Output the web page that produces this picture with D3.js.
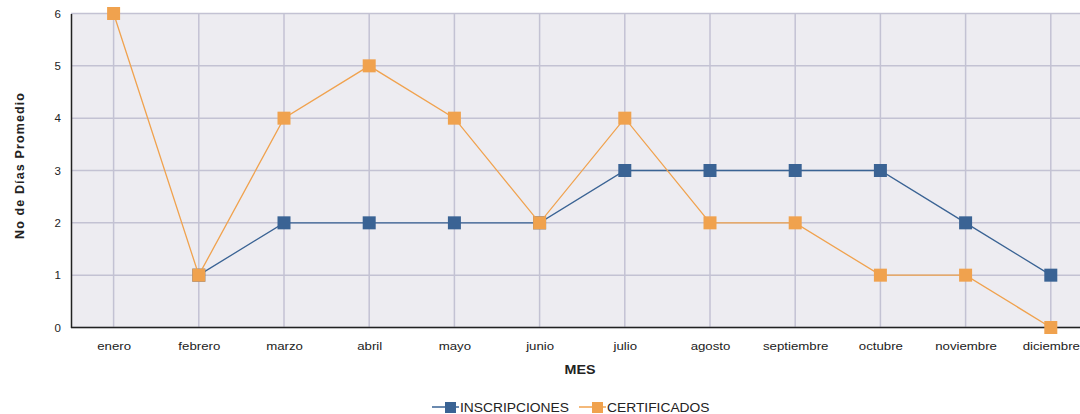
<!DOCTYPE html>
<html><head><meta charset="utf-8">
<script src="https://cdn.jsdelivr.net/npm/d3@7"></script>
<style>body{margin:0;background:#fff;}svg{display:block;font-family:"Liberation Sans",Arial,sans-serif;}</style>
</head><body>
<script>
const categories = ["enero","febrero","marzo","abril","mayo","junio","julio","agosto","septiembre","octubre","noviembre","diciembre"];
const inscripciones = [null,1,2,2,2,2,3,3,3,3,2,1];
const certificados = [6,1,4,5,4,2,4,2,2,1,1,0];
const yTicks = [0,1,2,3,4,5,6];
const seriesNames = ["INSCRIPCIONES","CERTIFICADOS"];
const colors = ["#3A6394","#F0A24E"];

(function(){
const W = 1080, H = 414;
const svg = d3.select("body").append("svg").attr("width", W).attr("height", H);
const pLeft = 71, pTop = 13.5, pBottom = 327.5;
const step = 85.2;
const x = d3.scalePoint().domain(categories).range([pLeft + step/2, pLeft + step/2 + step*11]);
const y = d3.scaleLinear().domain([0,6]).range([pBottom, pTop]);

function stretch(sel, f){
  sel.each(function(){ const w = this.getComputedTextLength(); d3.select(this).attr("textLength", w*f).attr("lengthAdjust","spacingAndGlyphs"); });
}

svg.append("rect").attr("x", pLeft).attr("y", pTop).attr("width", step*12).attr("height", pBottom-pTop).attr("fill","#EDECF1");
svg.append("g").selectAll("line").data(yTicks).join("line")
  .attr("x1", pLeft).attr("x2", pLeft + step*12).attr("y1", d=>y(d)).attr("y2", d=>y(d))
  .attr("stroke","#C3C2D3").attr("stroke-width",1.5);
svg.append("g").selectAll("line").data(categories).join("line")
  .attr("x1", d=>x(d)).attr("x2", d=>x(d)).attr("y1", pTop).attr("y2", pBottom)
  .attr("stroke","#C3C2D3").attr("stroke-width",1.5);

const yAxis = d3.axisLeft(y).tickValues(yTicks).tickSize(0).tickPadding(10).tickFormat(d3.format("d"));
const gy = svg.append("g").attr("transform",`translate(${pLeft},0)`).call(yAxis);
gy.select(".domain").attr("stroke","#222").attr("stroke-width",1.5);
gy.selectAll("text").attr("font-size",11.5).attr("fill","#222");

const xAxis = d3.axisBottom(x).tickSize(0).tickPadding(14);
const gx = svg.append("g").attr("transform",`translate(0,${pBottom})`).call(xAxis);
gx.select(".domain").attr("d", `M${pLeft},0H${pLeft+step*12}`).attr("stroke","#222").attr("stroke-width",1.5);
gx.selectAll("text").attr("font-size",11.5).attr("fill","#222");
stretch(gx.selectAll("text"), 1.15);

const mes = svg.append("text").attr("x", 580).attr("y", 374).attr("text-anchor","middle")
  .attr("font-size",13).attr("font-weight","bold").attr("fill","#222").text("MES");
stretch(mes, 1.1);
const yt = svg.append("text").attr("transform","translate(24,166) rotate(-90)").attr("text-anchor","middle")
  .attr("font-size",12.5).attr("font-weight","bold").attr("fill","#222").text("No de Días Promedio")
  .attr("textLength",146).attr("lengthAdjust","spacing");

const data = [inscripciones, certificados];
const line = d3.line().defined(d=>d!=null).x((d,i)=>x(categories[i])).y(d=>y(d));
const ms = 13;
data.forEach((vals, s) => {
  const g = svg.append("g");
  g.append("path").attr("d", line(vals)).attr("fill","none").attr("stroke", colors[s]).attr("stroke-width",1.3);
  g.selectAll("rect").data(vals.map((v,i)=>({v,i})).filter(d=>d.v!=null)).join("rect")
    .attr("x",d=>x(categories[d.i]) - ms/2).attr("y", d=>y(d.v)-ms/2)
    .attr("width", ms).attr("height", ms).attr("fill", colors[s]);
});

const legX = [432, 579], legY = 407;
seriesNames.forEach((n, s) => {
  const g = svg.append("g");
  g.append("line").attr("x1", legX[s]).attr("x2", legX[s]+27).attr("y1", legY).attr("y2", legY).attr("stroke", colors[s]).attr("stroke-width",1.5);
  g.append("rect").attr("x", legX[s]+13).attr("y", legY-5).attr("width",11).attr("height",11).attr("fill", colors[s]);
  const t = g.append("text").attr("x", legX[s]+28).attr("y", legY+4.5).attr("font-size",12).attr("fill","#222").text(n);
  stretch(t, 1.15);
});
})();
</script>
</body></html>
